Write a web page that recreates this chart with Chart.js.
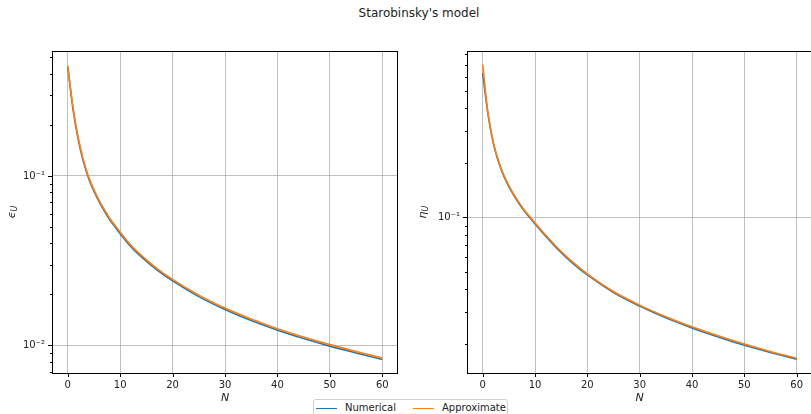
<!DOCTYPE html>
<html>
<head>
<meta charset="utf-8">
<script src="https://cdn.jsdelivr.net/npm/chart.js@4/dist/chart.umd.min.js"></script>
<style>
  body { margin: 0; width: 811px; height: 414px; overflow: hidden; background: #fff; position: relative; font-family: "DejaVu Sans", sans-serif; color: #222; }
  canvas { position: absolute; top: 0; }
  #title { position: absolute; left: 0; width: 838px; top: 6px; text-align: center; font-size: 12px; line-height: 15px; }
  #legend { position: absolute; left: 313px; top: 399px; width: 193px; height: 24px; border: 1px solid #d0d0d0; border-radius: 3px; background: #fff; font-size: 10px; }
  #legend .sw { position: absolute; top: 8px; width: 21px; height: 0; border-top: 1.5px solid; }
  #legend .lb { position: absolute; top: 2px; line-height: 12px; }
</style>
</head>
<body>
<div id="title">Starobinsky's model</div>
<canvas id="chart1" width="400" height="414" style="left:0px"></canvas>
<canvas id="chart2" width="410" height="414" style="left:405px"></canvas>
<div id="legend">
  <span class="sw" style="left:2px;border-color:#1f77b4"></span><span class="lb" style="left:31px">Numerical</span>
  <span class="sw" style="left:99px;border-color:#ff7f0e"></span><span class="lb" style="left:128px">Approximate</span>
</div>
<script>
const nValues = [0, 1, 2, 3, 4, 5, 6, 7, 8, 9, 10, 12, 14, 17, 20, 25, 30, 35, 40, 45, 50, 55, 60]
const epsNumerical = [0.44, 0.249, 0.164, 0.121, 0.0967, 0.0812, 0.0703, 0.0619, 0.0551, 0.0501, 0.0456, 0.0384, 0.0334, 0.0279, 0.024, 0.0194, 0.01627, 0.0140, 0.0123, 0.01098, 0.0099, 0.00902, 0.00825]
const epsApprox = [0.447, 0.255, 0.168, 0.124, 0.099, 0.083, 0.0718, 0.0632, 0.0563, 0.0511, 0.0466, 0.0392, 0.0341, 0.0285, 0.0245, 0.0198, 0.0166, 0.0143, 0.01255, 0.0112, 0.0101, 0.0092, 0.00842]
const etaNumerical = [0.628, 0.373, 0.259, 0.2035, 0.170, 0.1478, 0.1314, 0.1184, 0.108, 0.0994, 0.0919, 0.0788, 0.0682, 0.0564, 0.048, 0.0384, 0.0323, 0.0278, 0.02445, 0.0218, 0.0196, 0.0179, 0.0164]
const etaApprox = [0.70, 0.380, 0.263, 0.2065, 0.1726, 0.150, 0.1334, 0.1202, 0.1096, 0.1009, 0.0933, 0.0800, 0.0692, 0.0572, 0.0487, 0.0389, 0.0327, 0.0282, 0.0248, 0.0221, 0.0199, 0.0181, 0.0166]

const xTicks = [0, 10, 20, 30, 40, 50, 60]
const epsTicks = [0.007, 0.008, 0.009, 0.01, 0.02, 0.03, 0.04, 0.05, 0.06, 0.07, 0.08, 0.09, 0.1, 0.2, 0.3, 0.4, 0.5]
const etaTicks = [0.02, 0.03, 0.04, 0.05, 0.06, 0.07, 0.08, 0.09, 0.1, 0.2, 0.3, 0.4, 0.5, 0.6, 0.7, 0.8]
const decadeLabels = {'-1': '10\u207B\u00B9', '-2': '10\u207B\u00B2'}

const font = '"DejaVu Sans", sans-serif'
const isDecade = v => Math.abs(Math.log10(v) - Math.round(Math.log10(v))) < 1e-9

// frame, tick marks and the y title with subscript
const axesFrame = {
    id: 'axesFrame',
    afterDraw(chart, args, opts) {
        const {ctx, chartArea: a, scales} = chart
        ctx.save()
        ctx.strokeStyle = '#000'
        ctx.lineWidth = 1
        ctx.strokeRect(Math.round(a.left) + 0.5, Math.round(a.top) + 0.5, Math.round(a.right - a.left) - 1, Math.round(a.bottom - a.top))
        ctx.beginPath()
        scales.x.ticks.forEach(t => {
            const px = Math.round(scales.x.getPixelForValue(t.value)) + 0.5
            ctx.moveTo(px, a.bottom)
            ctx.lineTo(px, a.bottom + 4)
        })
        scales.y.ticks.forEach(t => {
            const py = Math.round(scales.y.getPixelForValue(t.value)) + 0.5
            const len = isDecade(t.value) ? 4 : 2
            ctx.moveTo(a.left - len, py)
            ctx.lineTo(a.left, py)
        })
        ctx.stroke()

        ctx.translate(opts.titleX, (a.top + a.bottom) / 2)
        ctx.rotate(-Math.PI / 2)
        ctx.fillStyle = '#222'
        ctx.textBaseline = 'middle'
        ctx.font = 'italic 11px ' + font
        const w1 = ctx.measureText(opts.symbol).width
        ctx.font = 'italic 8px ' + font
        const w2 = ctx.measureText('U').width
        const x0 = -(w1 + w2) / 2
        ctx.font = 'italic 11px ' + font
        ctx.fillText(opts.symbol, x0, 0)
        ctx.font = 'italic 8px ' + font
        ctx.fillText('U', x0 + w1, 3)
        ctx.restore()
    }
}

const makeChart = (id, numerical, approx, yTicks, yMin, yMax, yWidth, padRight, symbol, titleX) => {
    return new Chart(document.getElementById(id).getContext('2d'), {
        type: 'line',
        data: {
            datasets: [{
                label: 'Approximate',
                data: nValues.map((n, i) => ({x: n, y: approx[i]})),
                borderColor: '#ff7f0e',
                order: 0
            }, {
                label: 'Numerical',
                data: nValues.map((n, i) => ({x: n, y: numerical[i]})),
                borderColor: '#1f77b4',
                order: 1
            }]
        },
        options: {
            responsive: false,
            animation: false,
            devicePixelRatio: 1,
            elements: {
                point: {radius: 0},
                line: {borderWidth: 1.6, cubicInterpolationMode: 'monotone', fill: false}
            },
            layout: {padding: {top: 51, right: padRight, left: 0, bottom: 0}},
            plugins: {
                legend: {display: false},
                tooltip: {enabled: false},
                axesFrame: {symbol, titleX}
            },
            scales: {
                x: {
                    type: 'linear',
                    min: -3,
                    max: 63,
                    afterBuildTicks: s => { s.ticks = xTicks.map(v => ({value: v})) },
                    afterFit: s => { s.height = 41 },
                    grid: {color: '#b0b0b0', lineWidth: 0.8, drawTicks: false},
                    border: {display: false},
                    ticks: {color: '#222', font: {family: font, size: 10}, padding: 6, maxRotation: 0},
                    title: {display: true, text: 'N', color: '#222', font: {family: font, size: 11, style: 'italic'}, padding: {top: 0, bottom: 9}}
                },
                y: {
                    type: 'logarithmic',
                    min: yMin,
                    max: yMax,
                    afterBuildTicks: s => { s.ticks = yTicks.map(v => ({value: v, major: isDecade(v)})) },
                    afterFit: s => { s.width = yWidth },
                    grid: {
                        color: c => (c.tick && isDecade(c.tick.value)) ? '#b0b0b0' : 'rgba(0,0,0,0)',
                        lineWidth: 0.8,
                        drawTicks: false
                    },
                    border: {display: false},
                    ticks: {
                        color: '#222',
                        font: {family: font, size: 10},
                        padding: 7,
                        autoSkip: false,
                        callback: v => isDecade(v) ? decadeLabels[String(Math.round(Math.log10(v)))] : ''
                    }
                }
            }
        },
        plugins: [axesFrame]
    })
}

makeChart('chart1', epsNumerical, epsApprox, epsTicks, 0.00687, 0.546, 52, 2, '\u03F5', 12)
makeChart('chart2', etaNumerical, etaApprox, etaTicks, 0.01377, 0.832, 62, 2.6, '\u03B7', 18)
</script>
</body>
</html>
